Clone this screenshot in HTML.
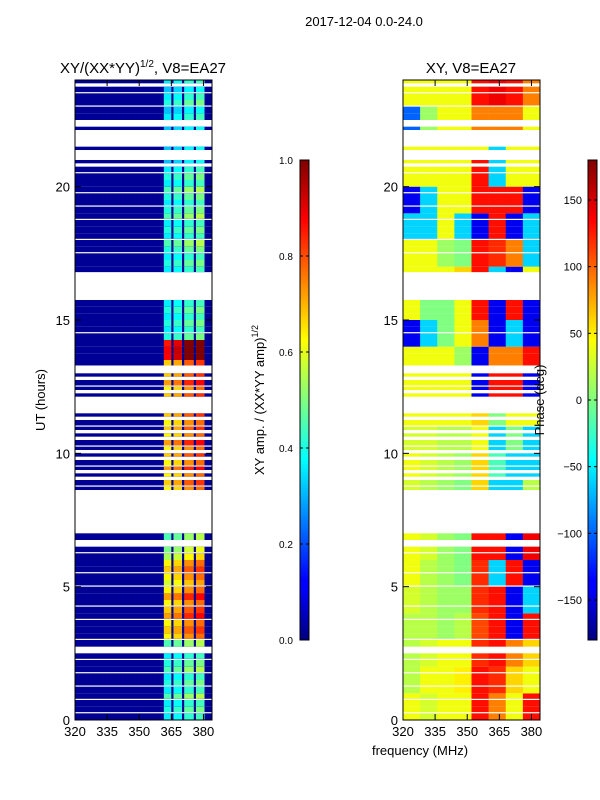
<!DOCTYPE html>
<html><head><meta charset="utf-8"><style>
body{margin:0;background:#fff;}
svg{display:block;font-family:"Liberation Sans",sans-serif;}
</style></head><body>
<svg id="fig" width="600" height="800" viewBox="0 0 600 800">
<defs>
<linearGradient id="jet" x1="0" y1="1" x2="0" y2="0">
<stop offset="0" stop-color="#00007f"/><stop offset="0.11" stop-color="#0000ff"/><stop offset="0.125" stop-color="#0000ff"/>
<stop offset="0.375" stop-color="#00ffff"/><stop offset="0.5" stop-color="#80ff80"/><stop offset="0.625" stop-color="#ffff00"/>
<stop offset="0.875" stop-color="#ff0000"/><stop offset="1" stop-color="#7f0000"/>
</linearGradient>
</defs>
<text x="364" y="26" font-size="13" text-anchor="middle">2017-12-04 0.0-24.0</text>
<text x="143" y="73" font-size="15" text-anchor="middle">XY/(XX*YY)<tspan font-size="10" dy="-6">1/2</tspan><tspan dy="6">, V8=EA27</tspan></text>
<text x="471" y="73" font-size="15" text-anchor="middle">XY, V8=EA27</text>
<g id="ampPanel"></g>
<g id="phPanel"></g>
<g id="axes"></g>
<text transform="translate(45,400) rotate(-90)" font-size="13" text-anchor="middle">UT (hours)</text>
<text x="420" y="755" font-size="13" text-anchor="middle">frequency (MHz)</text>
<rect x="300" y="160" width="9" height="480" fill="url(#jet)" stroke="#000" stroke-width="1"/>
<rect x="588" y="160" width="9" height="480" fill="url(#jet)" stroke="#000" stroke-width="1"/>
<g id="cb"></g>
<text transform="translate(264,400) rotate(-90)" font-size="13" text-anchor="middle">XY amp. / (XX*YY amp)<tspan font-size="9" dy="-6">1/2</tspan></text>
<text transform="translate(544,400) rotate(-90)" font-size="13" text-anchor="middle">Phase (deg)</text>
</svg>
<script>
const rowFlags=[1,2,1,2,1,2,1,2,1,2,0,1,2,1,1,2,1,2,1,1,2,1,2,1,1,2,0,1,0,0,0,0,0,0,3,2,3,3,2,3,3,2,3,3,2,3,0,0,3,3,2,3,0,2,1,1,1,1,2,1,1,1,1,0,0,0,0,2,1,1,2,1,2,1,1,2,1,2,1,2,1,1,2,3,0,3,0,0,3,0,1,1,2,1,2,3];
const ampRows=[0.4,0.45,0.4,0.5,0.4,0.45,0.4,0.5,0.45,0.4,0.4,0.5,0.7,0.75,0.7,0.8,0.75,0.7,0.8,0.7,0.65,0.7,0.75,0.7,0.6,0.55,0.5,0.5,0.5,0.5,0.5,0.5,0.5,0.5,0.7,0.75,0.7,0.8,0.7,0.75,0.7,0.8,0.7,0.75,0.7,0.75,0.7,0.7,0.75,0.7,0.8,0.75,0.7,0.75,0.97,0.98,0.95,0.45,0.4,0.45,0.4,0.45,0.4,0.4,0.4,0.4,0.4,0.4,0.45,0.4,0.45,0.5,0.4,0.45,0.4,0.5,0.45,0.4,0.45,0.5,0.4,0.45,0.4,0.35,0.35,0.35,0.35,0.35,0.35,0.35,0.4,0.35,0.45,0.4,0.35,0.4];
const stripeLo=[361.5,366,371,376.5];
const stripeHi=[365,370,375.5,380.5];
const stripeGain=[0.9,0.95,1.05,1.1];
const phaseBands=[320,328,336,344,352,360,368,376,384];
const phaseHours=[
[40,30,40,40,130,90,40,130],[20,40,40,50,130,120,60,40],[20,30,40,40,120,130,90,60],[20,20,10,20,110,130,-140,130],
[30,20,10,10,120,130,-140,-60],[40,20,10,0,120,-60,130,-140],[40,30,10,0,130,130,-140,140],[40,30,20,10,90,-60,40,40],
[30,20,10,0,60,-60,-60,20],[40,30,20,10,60,-20,-60,-60],[30,30,20,20,40,-60,0,-60],[40,40,40,40,60,0,40,40],
[40,40,40,40,-140,130,130,-140],[40,40,40,10,-140,90,90,130],[-140,-60,0,40,90,-140,-60,-140],[40,0,0,40,130,-140,130,-140],
[40,40,40,60,130,-60,-140,40],[40,40,10,0,130,120,90,-60],[-60,-60,40,-60,-140,130,-140,-60],[-140,-60,40,40,130,130,130,-140],
[40,40,40,40,130,-60,40,40],[40,40,40,40,40,-60,40,40],[-100,10,40,40,90,90,90,40],[40,40,40,40,130,140,130,90]];
const xTicks=[320,335,350,365,380];
const yTicks=[0,5,10,15,20];
const ampTicks=[0,0.2,0.4,0.6,0.8,1.0];
const phTicks=[-150,-100,-50,0,50,100,150];

const NS="http://www.w3.org/2000/svg";
const L0=75,R0=403,PW=137,TOP=80,BOT=720;
function xs(f,x0){return x0+(f-320)*PW/64;}
function ys(h){return BOT-h*(BOT-TOP)/24;}
function jet(v){v=Math.max(0,Math.min(1,v));
 const r=Math.max(0,Math.min(1,1.5-Math.abs(4*v-3))),g=Math.max(0,Math.min(1,1.5-Math.abs(4*v-2))),b=Math.max(0,Math.min(1,1.5-Math.abs(4*v-1)));
 return `rgb(${Math.round(r*255)},${Math.round(g*255)},${Math.round(b*255)})`;}
function rect(p,x,y,w,h,fill){const r=document.createElementNS(NS,'rect');r.setAttribute('x',x);r.setAttribute('y',y);r.setAttribute('width',w);r.setAttribute('height',h);r.setAttribute('fill',fill);p.appendChild(r);return r;}
const amp=document.getElementById('ampPanel'),ph=document.getElementById('phPanel');
const dh=24/rowFlags.length;
rowFlags.forEach((fl,i)=>{
 if(fl===0)return;
 const y1=ys((i+1)*dh),y0=ys(i*dh);let hgt=y0-y1;
 if(fl===2)hgt-=1.2; if(fl===3)hgt=hgt/2;
 let r=rect(amp,L0,y1,PW,hgt,jet(0.02));
 
 
 stripeLo.forEach((lo,k)=>{
  const a=Math.min(1,ampRows[i]*stripeGain[k]);
  const s=rect(amp,xs(lo,L0),y1,xs(stripeHi[k],L0)-xs(lo,L0),hgt,jet(a));
  
  
 });
 const hr=Math.min(23,Math.floor(i*dh));
 for(let b=0;b<8;b++){
  const v=(phaseHours[hr][b]+180)/360;
  const c=rect(ph,xs(phaseBands[b],R0),y1,xs(phaseBands[b+1],R0)-xs(phaseBands[b],R0)+0.3,hgt,jet(v));
  
  
 }
});
const ax=document.getElementById('axes');
function line(p,x1,y1,x2,y2){const l=document.createElementNS(NS,'line');l.setAttribute('x1',x1);l.setAttribute('y1',y1);l.setAttribute('x2',x2);l.setAttribute('y2',y2);l.setAttribute('stroke','#000');p.appendChild(l);return l;}
function text(p,x,y,s,anchor,size){const t=document.createElementNS(NS,'text');t.setAttribute('x',x);t.setAttribute('y',y);t.setAttribute('text-anchor',anchor);t.setAttribute('font-size',size);t.textContent=s;p.appendChild(t);return t;}
[L0,R0].forEach(x0=>{
 const fr=rect(ax,x0,TOP,PW,BOT-TOP,'none');fr.setAttribute('stroke','#000');
 
 
 xTicks.forEach(t=>{const x=xs(t,x0);line(ax,x,BOT,x,BOT-6);line(ax,x,TOP,x,TOP+6);
  const tt=text(ax,x,736,String(t),'middle',13);
  
  });
 yTicks.forEach(t=>{const y=ys(t);line(ax,x0,y,x0+6,y);line(ax,x0+PW,y,x0+PW-6,y);
  const tt=text(ax,x0-5,y+5,String(t),'end',13);
  
  });
});
const cb=document.getElementById('cb');
ampTicks.forEach(t=>{const y=640-t*480;line(cb,300,y,303,y);line(cb,309,y,306,y);
 const tt=text(cb,279,y+4,t.toFixed(1),'start',10);
 
 });
phTicks.forEach(t=>{const y=400-t*240/180;line(cb,588,y,591,y);line(cb,597,y,594,y);
 const tt=text(cb,582,y+4,t<0?'\u2212'+(-t):String(t),'end',11);
 
 });
</script>
</body></html>
